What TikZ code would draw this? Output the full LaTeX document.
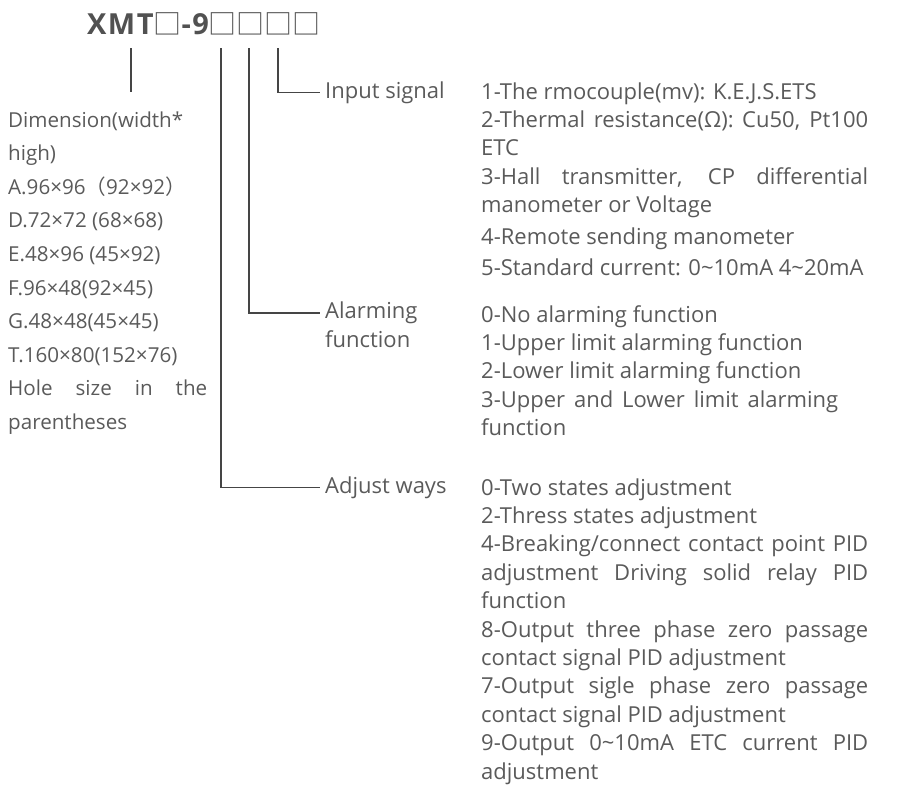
\documentclass[tikz,border=0pt]{standalone}
\usepackage{fontspec}
\setmainfont{Open Sans}
\newfontfamily\cjk{Noto Sans CJK SC}
\usepackage{xcolor}
\usetikzlibrary{positioning,calc}
\definecolor{inkgray}{HTML}{5A5A5A}
\definecolor{linegray}{HTML}{454545}
\tikzset{
  title/.style={font=\fontsize{29}{32}\selectfont\bfseries\addfontfeature{LetterSpace=5},text=inkgray!90!black,inner sep=0pt},
  lbl/.style={font=\fontsize{22}{29}\selectfont,text=inkgray,inner xsep=5pt,inner ysep=0pt,align=left},
  desc/.style={font=\fontsize{22}{28.4}\selectfont,text=inkgray,inner sep=0pt,align=justify},
  dims/.style={font=\fontsize{20.6}{33.6}\selectfont,text=inkgray,inner sep=0pt,align=justify,text width=199pt},
  conn/.style={line width=1.3pt,linegray},
  every picture/.style={x=1pt,y=-1pt}
}

\begin{document}
\begin{tikzpicture}
  \useasboundingbox (0,0) rectangle (919,785);
  % model code
  \node[title,anchor=base west] (model) at (87,34) {XMT{\cjk\mdseries\fontsize{28}{32}\selectfont □}-9{\cjk\mdseries\fontsize{28}{32}\selectfont □□□□}};
  \coordinate (dimtop) at (131,48);
  \coordinate (dimend) at (131,92);
  \coordinate (adjtop) at (221,48);
  \coordinate (almtop) at (249,48);
  \coordinate (inptop) at (278,48);
  % labels of the code positions
  \node[lbl,anchor=base west] (inplbl) at (320,98) {Input signal};
  \node[lbl,anchor=north west] (almlbl) at (320,302) {Alarming\\function};
  \node[lbl,anchor=base west] (adjlbl) at (320,493) {Adjust ways};
  \draw[conn] (dimtop) -- (dimend);
  \draw[conn] (inptop) |- (inplbl.west);
  \draw[conn] (almtop) |- ([yshift=-11pt]almlbl.north west);
  \draw[conn] (adjtop) |- (adjlbl.west);
  % dimension list
  \node[dims,anchor=base west] (dimtxt) at (8,127) {Dimension(width*\newline high)\par
    A.96×96{\cjk（}92×92{\cjk）}\par
    D.72×72 (68×68)\par
    E.48×96 (45×92)\par
    F.96×48(92×45)\par
    G.48×48(45×45)\par
    T.160×80(152×76)\par
    Hole size in the\linebreak parentheses};
  % option lists
  \node[desc,text width=387pt,anchor=base west] (inptxt) at (481,99) {1-The rmocouple(mv): K.E.J.S.ETS\par
    2-Thermal resistance(Ω): Cu50, Pt100\linebreak ETC\par
    3-Hall transmitter, CP differential\linebreak manometer or Voltage\par
    \vspace{3.5pt}4-Remote sending manometer\par
    \vspace{3pt}5-Standard current: 0\textasciitilde10mA 4\textasciitilde20mA};
  \node[desc,text width=357pt,anchor=base west] (almtxt) at (481,322) {0-No alarming function\par
    1-Upper limit alarming function\par
    2-Lower limit alarming function\par
    3-Upper and Lower limit alarming\linebreak function};
  \node[desc,text width=387pt,anchor=base west] (adjtxt) at (481,495) {0-Two states adjustment\par
    2-Thress states adjustment\par
    4-Breaking/connect contact point PID\linebreak adjustment Driving solid relay PID\linebreak function\par
    8-Output three phase zero passage\linebreak contact signal PID adjustment\par
    7-Output sigle phase zero passage\linebreak contact signal PID adjustment\par
    9-Output 0\textasciitilde10mA ETC current PID\linebreak adjustment};
\end{tikzpicture}
\end{document}
